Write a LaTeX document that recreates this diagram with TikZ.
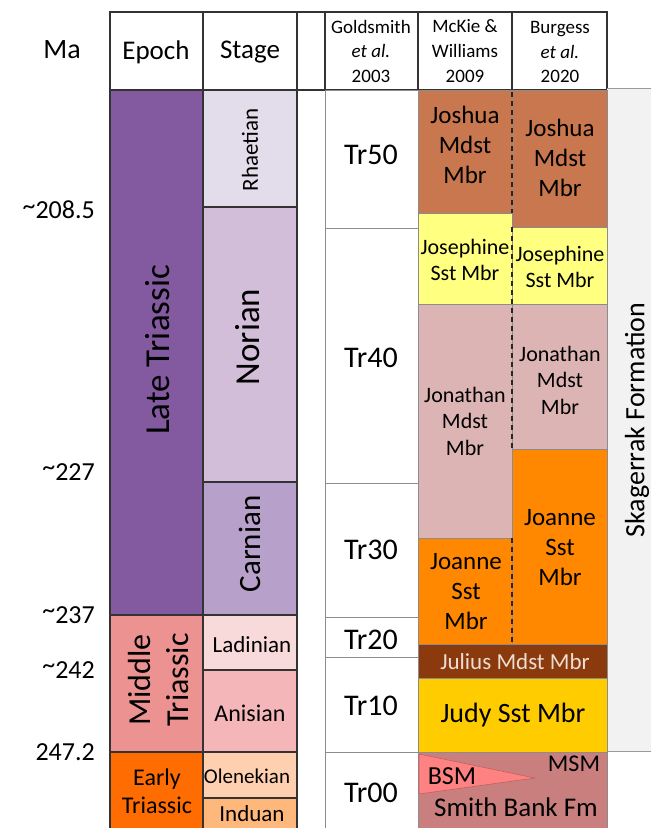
\documentclass[tikz,border=0pt]{standalone}
\usepackage{fontspec}
\setmainfont{Carlito}
\usepackage{tikz}

\definecolor{lateT}{HTML}{8359A0}
\definecolor{midT}{HTML}{EC9392}
\definecolor{earlyT}{HTML}{FE6C02}
\definecolor{rhaet}{HTML}{E3DCEB}
\definecolor{norian}{HTML}{D2BED9}
\definecolor{carnian}{HTML}{B7A0C9}
\definecolor{ladin}{HTML}{F8DADA}
\definecolor{anis}{HTML}{F4B6B9}
\definecolor{olenek}{HTML}{FFD0B0}
\definecolor{induan}{HTML}{FFB87C}
\definecolor{joshua}{HTML}{C9774E}
\definecolor{josephine}{HTML}{FFFF80}
\definecolor{jonathan}{HTML}{DDB4B4}
\definecolor{joanne}{HTML}{FF8800}
\definecolor{julius}{HTML}{8A3A0C}
\definecolor{juliustext}{HTML}{EEDDD2}
\definecolor{judy}{HTML}{FFCC00}
\definecolor{smith}{HTML}{CA7F7F}
\definecolor{bsm}{HTML}{FF8282}
\definecolor{skag}{HTML}{F2F2F2}

\newcommand{\fsz}[2]{\fontsize{#1}{#2}\selectfont}
\newcommand{\approxma}{\raisebox{0.18em}{\textasciitilde}}

\tikzset{
  chrono/.style={draw=black!80, line width=1.1pt},
  gcell/.style={draw=black!45, line width=1pt, fill=white},
  mbr/.style={draw=black!45, line width=0.9pt},
  lbl/.style={inner sep=0pt, align=center},
}

\begin{document}
\begin{tikzpicture}[x=1pt,y=-1pt]
  \useasboundingbox (0,0) rectangle (651,828);
  \clip (0,0) rectangle (651,828);

  % header row
  \foreach \a/\b in {110/203,203/297,297/325,325/418,418/512,512/607}
    \draw[chrono] (\a,12) rectangle (\b,90);
  \node[lbl, font=\fsz{28}{32}] (ma) at (62,50) {Ma};
  \node[lbl, font=\fsz{27}{32}] (epoch) at (156,52) {Epoch};
  \node[lbl, font=\fsz{27}{32}] (stage) at (250,52) {Stage};
  \node[lbl, font=\fsz{19}{24.5}] (gold) at (371,51) {Goldsmith\\\textit{et al.}\\2003};
  \node[lbl, font=\fsz{19}{25}] (mckie) at (465,51) {McKie \&\\Williams\\2009};
  \node[lbl, font=\fsz{19}{24.5}] (burg) at (560,52) {Burgess\\\textit{et al.}\\2020};

  % epochs and stages
  \draw[chrono, fill=lateT] (110,90) rectangle (203,615);
  \draw[chrono, fill=midT] (110,615) rectangle (203,752);
  \draw[chrono, fill=earlyT] (110,752) rectangle (203,832);
  \draw[chrono, fill=rhaet] (203,90) rectangle (297,207);
  \draw[chrono, fill=norian] (203,207) rectangle (297,482);
  \draw[chrono, fill=carnian] (203,482) rectangle (297,615);
  \draw[chrono, fill=ladin] (203,615) rectangle (297,670);
  \draw[chrono, fill=anis] (203,670) rectangle (297,752);
  \draw[chrono, fill=olenek] (203,752) rectangle (297,798);
  \draw[chrono, fill=induan] (203,798) rectangle (297,832);
  \draw[gcell] (325,90) -- (325,832);

  \node[lbl, rotate=90, font=\fsz{35}{40}] (late) at (158,350) {Late Triassic};
  \node[lbl, rotate=90, font=\fsz{32}{38}] (middle) at (159,680) {Middle\\Triassic};
  \node[lbl, font=\fsz{24}{28}] (early) at (157,791) {Early\\Triassic};
  \node[lbl, rotate=90, font=\fsz{23}{28}] (rhaetian) at (250,150) {Rhaetian};
  \node[lbl, rotate=90, font=\fsz{35}{40}] (norianlbl) at (248,337) {Norian};
  \node[lbl, rotate=90, font=\fsz{31}{36}] (carnianlbl) at (250,544) {Carnian};
  \node[lbl, font=\fsz{23}{28}] (ladinian) at (252,645) {Ladinian};
  \node[lbl, font=\fsz{24}{28}] (anisian) at (250,713) {Anisian};
  \node[lbl, font=\fsz{21}{26}] (olenekian) at (247,776) {Olenekian};
  \node[lbl, font=\fsz{23}{28}] (induanlbl) at (252,814) {Induan};

  % ages
  \foreach \y/\t/\n in {210/\approxma208.5/a, 472/\approxma227/b, 615/\approxma237/c, 670/\approxma242/d, 752/247.2/e}
    \node[lbl, anchor=east, font=\fsz{26}{30}] (age\n) at (95,\y) {\t};

  % Goldsmith et al. sequences
  \foreach \a/\b/\t/\y in {90/228/Tr50/155, 228/483/Tr40/358, 483/617/Tr30/550, 617/657/Tr20/640, 657/752/Tr10/706, 752/832/Tr00/793} {
    \draw[gcell] (325,\a) rectangle (418,\b);
    \node[lbl, font=\fsz{30}{34}] (\t) at (371,\y) {\t};
  }

  % Skagerrak Formation
  \fill[skag] (607,88) rectangle (651,751);
  \draw[black!40, line width=1pt] (607,88) -- (651,88) (607,751) -- (651,751);
  \node[lbl, rotate=90, font=\fsz{28}{32}] (skagerrak) at (637,420) {Skagerrak Formation};

  % members
  \draw[mbr, fill=joshua] (418,90) rectangle (512,213);
  \draw[mbr, fill=joshua] (512,90) rectangle (607,227);
  \draw[mbr, fill=josephine] (418,213) rectangle (512,304);
  \draw[mbr, fill=josephine] (512,227) rectangle (607,304);
  \draw[mbr, fill=jonathan] (418,304) rectangle (512,538);
  \draw[mbr, fill=jonathan] (512,304) rectangle (607,449);
  \draw[mbr, fill=joanne] (418,538) rectangle (512,644);
  \draw[mbr, fill=joanne] (512,449) rectangle (607,644);
  \draw[mbr, fill=julius] (418,644) rectangle (607,678);
  \draw[mbr, fill=judy] (418,678) rectangle (607,752);
  \draw[mbr, fill=smith] (418,752) rectangle (607,832);
  \draw[draw=bsm!75!black, line width=0.6pt, fill=bsm] (419,754) -- (535,778) -- (419,794) -- cycle;
  \draw[black!85, line width=1.2pt, dash pattern=on 5pt off 4pt]
    (512,92) -- (512,213) (512,227) -- (512,449) (512,538) -- (512,644);

  \node[lbl, font=\fsz{25}{30}] (joshuaM) at (465,145) {Joshua\\Mdst\\Mbr};
  \node[lbl, font=\fsz{25}{30}] (joshuaB) at (560,158) {Joshua\\Mdst\\Mbr};
  \node[lbl, font=\fsz{22}{26}] (josephineM) at (465,260) {Josephine\\Sst Mbr};
  \node[lbl, font=\fsz{22}{26}] (josephineB) at (560,267) {Josephine\\Sst Mbr};
  \node[lbl, font=\fsz{22}{26.5}] (jonathanM) at (465,421) {Jonathan\\Mdst\\Mbr};
  \node[lbl, font=\fsz{22}{26.5}] (jonathanB) at (560,380) {Jonathan\\Mdst\\Mbr};
  \node[lbl, font=\fsz{25}{30}] (joanneM) at (466,592) {Joanne\\Sst\\Mbr};
  \node[lbl, font=\fsz{25}{30}] (joanneB) at (560,548) {Joanne\\Sst\\Mbr};
  \node[lbl, font=\fsz{23}{26}, text=juliustext] (juliuslbl) at (515,662) {Julius Mdst Mbr};
  \node[lbl, font=\fsz{28}{32}] (judylbl) at (513,715) {Judy Sst Mbr};
  \node[lbl, font=\fsz{26}{30}] (bsmlbl) at (452,776) {BSM};
  \node[lbl, font=\fsz{24}{28}] (msmlbl) at (574,764) {MSM};
  \node[lbl, font=\fsz{27}{30}] (smithlbl) at (516,807) {Smith Bank Fm};
\end{tikzpicture}
\end{document}
